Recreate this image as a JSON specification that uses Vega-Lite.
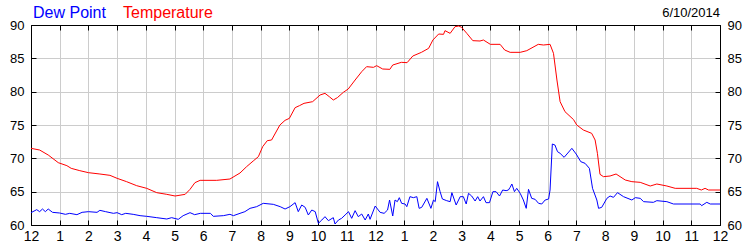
{
  "$schema": "https://vega.github.io/schema/vega-lite/v6.json",
  "width": 689,
  "height": 200,
  "autosize": {"type": "none"},
  "padding": {"left": 31, "top": 25, "right": 30, "bottom": 25},
  "background": "white",
  "title": {"text": "6/10/2014", "anchor": "end", "frame": "group", "fontSize": 13, "fontWeight": "normal", "font": "Liberation Sans", "color": "#000000", "offset": -15},
  "datasets": {
    "temp": [
      {"h":0,"v":71.5},{"h":0.3,"v":71.25},{"h":0.6,"v":70.5},{"h":0.95,"v":69.35},{"h":1.25,"v":68.9},{"h":1.4,"v":68.5},{"h":1.7,"v":68.15},{"h":2.0,"v":67.85},{"h":2.4,"v":67.65},{"h":2.75,"v":67.45},{"h":3.0,"v":67.0},{"h":3.33,"v":66.5},{"h":3.68,"v":65.9},{"h":4.03,"v":65.5},{"h":4.38,"v":64.85},{"h":4.73,"v":64.6},{"h":5.02,"v":64.35},{"h":5.37,"v":64.6},{"h":5.54,"v":65.35},{"h":5.71,"v":66.35},{"h":5.89,"v":66.7},{"h":6.47,"v":66.7},{"h":6.93,"v":66.9},{"h":7.28,"v":67.8},{"h":7.51,"v":68.75},{"h":7.74,"v":69.6},{"h":7.92,"v":70.25},{"h":8.07,"v":71.75},{"h":8.23,"v":72.65},{"h":8.38,"v":72.75},{"h":8.67,"v":75.0},{"h":8.85,"v":75.7},{"h":9.0,"v":76.0},{"h":9.2,"v":77.6},{"h":9.35,"v":77.9},{"h":9.51,"v":78.25},{"h":9.81,"v":78.5},{"h":10.07,"v":79.5},{"h":10.24,"v":79.75},{"h":10.39,"v":79.25},{"h":10.53,"v":78.75},{"h":10.67,"v":79.1},{"h":10.88,"v":79.9},{"h":11.05,"v":80.4},{"h":11.29,"v":81.75},{"h":11.52,"v":83.0},{"h":11.69,"v":83.75},{"h":11.93,"v":83.65},{"h":12.04,"v":83.9},{"h":12.25,"v":83.4},{"h":12.5,"v":83.35},{"h":12.6,"v":84.0},{"h":12.9,"v":84.4},{"h":13.1,"v":84.35},{"h":13.3,"v":85.35},{"h":13.6,"v":85.9},{"h":13.85,"v":86.5},{"h":14.0,"v":87.75},{"h":14.2,"v":88.65},{"h":14.37,"v":88.6},{"h":14.42,"v":89.15},{"h":14.6,"v":88.75},{"h":14.77,"v":89.75},{"h":14.9,"v":89.85},{"h":15.0,"v":89.65},{"h":15.18,"v":88.75},{"h":15.39,"v":87.65},{"h":15.64,"v":87.6},{"h":15.76,"v":87.75},{"h":16.0,"v":87.1},{"h":16.34,"v":87.1},{"h":16.5,"v":86.25},{"h":16.69,"v":85.9},{"h":17.04,"v":85.9},{"h":17.27,"v":86.15},{"h":17.67,"v":87.1},{"h":17.85,"v":87.0},{"h":18.08,"v":87.1},{"h":18.2,"v":85.75},{"h":18.32,"v":81.75},{"h":18.43,"v":78.5},{"h":18.6,"v":77.0},{"h":18.9,"v":75.8},{"h":19.01,"v":75.0},{"h":19.24,"v":74.25},{"h":19.53,"v":73.75},{"h":19.65,"v":72.75},{"h":19.73,"v":70.75},{"h":19.82,"v":67.6},{"h":19.94,"v":67.25},{"h":20.17,"v":67.35},{"h":20.38,"v":67.65},{"h":20.7,"v":66.75},{"h":20.93,"v":66.5},{"h":21.22,"v":66.4},{"h":21.57,"v":65.85},{"h":21.8,"v":66.15},{"h":22.15,"v":65.85},{"h":22.44,"v":65.5},{"h":23.19,"v":65.5},{"h":23.35,"v":65.25},{"h":23.48,"v":65.5},{"h":23.6,"v":65.25},{"h":24.0,"v":65.25}
    ],
    "dew": [
      {"h":0,"v":61.85},{"h":0.2,"v":62.3},{"h":0.3,"v":62.0},{"h":0.4,"v":62.4},{"h":0.5,"v":62.0},{"h":0.6,"v":62.4},{"h":0.75,"v":61.9},{"h":1.0,"v":61.8},{"h":1.2,"v":61.6},{"h":1.35,"v":61.75},{"h":1.6,"v":61.55},{"h":1.78,"v":61.9},{"h":2.0,"v":62.0},{"h":2.3,"v":61.9},{"h":2.4,"v":62.2},{"h":2.6,"v":62.0},{"h":2.87,"v":61.75},{"h":3.0,"v":61.85},{"h":3.16,"v":61.55},{"h":3.3,"v":61.75},{"h":3.56,"v":61.6},{"h":3.8,"v":61.4},{"h":4.03,"v":61.3},{"h":4.38,"v":61.1},{"h":4.73,"v":60.9},{"h":4.9,"v":61.1},{"h":5.13,"v":60.85},{"h":5.3,"v":61.4},{"h":5.54,"v":61.85},{"h":5.7,"v":61.55},{"h":5.9,"v":61.75},{"h":6.25,"v":61.75},{"h":6.35,"v":61.3},{"h":6.7,"v":61.4},{"h":6.93,"v":61.6},{"h":7.05,"v":61.4},{"h":7.28,"v":61.75},{"h":7.45,"v":62.0},{"h":7.63,"v":62.5},{"h":7.86,"v":62.75},{"h":8.09,"v":63.25},{"h":8.44,"v":63.1},{"h":8.68,"v":62.75},{"h":8.85,"v":62.4},{"h":9.02,"v":62.75},{"h":9.2,"v":63.35},{"h":9.31,"v":62.0},{"h":9.43,"v":63.0},{"h":9.55,"v":62.65},{"h":9.66,"v":61.5},{"h":9.78,"v":62.25},{"h":9.9,"v":62.0},{"h":10.01,"v":60.25},{"h":10.13,"v":60.75},{"h":10.24,"v":61.25},{"h":10.36,"v":60.65},{"h":10.53,"v":61.1},{"h":10.59,"v":60.15},{"h":10.71,"v":60.75},{"h":10.82,"v":61.0},{"h":10.94,"v":61.5},{"h":11.06,"v":62.0},{"h":11.17,"v":61.0},{"h":11.29,"v":62.15},{"h":11.4,"v":61.25},{"h":11.52,"v":61.65},{"h":11.64,"v":60.75},{"h":11.75,"v":61.65},{"h":11.81,"v":60.85},{"h":11.99,"v":62.85},{"h":12.16,"v":61.9},{"h":12.3,"v":61.75},{"h":12.42,"v":62.25},{"h":12.49,"v":63.75},{"h":12.6,"v":61.35},{"h":12.68,"v":63.75},{"h":12.76,"v":63.5},{"h":12.83,"v":64.1},{"h":12.91,"v":63.25},{"h":13.03,"v":63.15},{"h":13.09,"v":62.75},{"h":13.2,"v":64.25},{"h":13.32,"v":64.1},{"h":13.44,"v":64.25},{"h":13.52,"v":62.5},{"h":13.61,"v":62.65},{"h":13.79,"v":64.0},{"h":13.93,"v":62.5},{"h":14.02,"v":63.75},{"h":14.08,"v":63.5},{"h":14.16,"v":66.5},{"h":14.25,"v":65.0},{"h":14.33,"v":63.9},{"h":14.48,"v":63.65},{"h":14.6,"v":63.5},{"h":14.66,"v":64.85},{"h":14.81,"v":63.0},{"h":14.95,"v":64.25},{"h":15.06,"v":64.25},{"h":15.16,"v":63.15},{"h":15.24,"v":64.75},{"h":15.35,"v":64.35},{"h":15.47,"v":63.6},{"h":15.56,"v":64.25},{"h":15.64,"v":63.6},{"h":15.76,"v":64.25},{"h":15.85,"v":63.35},{"h":15.97,"v":63.35},{"h":16.09,"v":65.0},{"h":16.2,"v":65.0},{"h":16.32,"v":64.35},{"h":16.43,"v":65.25},{"h":16.55,"v":65.15},{"h":16.63,"v":65.25},{"h":16.69,"v":65.65},{"h":16.75,"v":66.15},{"h":16.84,"v":65.0},{"h":16.92,"v":65.5},{"h":17.04,"v":64.75},{"h":17.15,"v":63.75},{"h":17.25,"v":62.5},{"h":17.33,"v":65.35},{"h":17.44,"v":64.0},{"h":17.56,"v":63.85},{"h":17.68,"v":63.25},{"h":17.79,"v":63.15},{"h":17.91,"v":63.75},{"h":18.03,"v":63.9},{"h":18.08,"v":65.25},{"h":18.16,"v":72.15},{"h":18.25,"v":72.0},{"h":18.34,"v":71.0},{"h":18.43,"v":70.75},{"h":18.57,"v":70.15},{"h":18.84,"v":71.5},{"h":18.99,"v":70.65},{"h":19.15,"v":69.5},{"h":19.3,"v":69.25},{"h":19.45,"v":68.5},{"h":19.56,"v":65.5},{"h":19.71,"v":63.75},{"h":19.77,"v":62.5},{"h":19.88,"v":62.65},{"h":20.06,"v":64.0},{"h":20.17,"v":64.35},{"h":20.29,"v":64.15},{"h":20.43,"v":64.85},{"h":20.64,"v":64.25},{"h":20.93,"v":63.75},{"h":21.05,"v":64.1},{"h":21.22,"v":64.0},{"h":21.34,"v":63.5},{"h":21.68,"v":63.4},{"h":21.8,"v":63.65},{"h":22.15,"v":63.5},{"h":22.38,"v":63.15},{"h":23.31,"v":63.15},{"h":23.36,"v":62.9},{"h":23.54,"v":63.4},{"h":23.66,"v":63.15},{"h":24.0,"v":63.15}
    ]
  },
  "config": {
    "view": {"stroke": "#000000", "strokeWidth": 1},
    "axis": {
      "title": null,
      "domainColor": "#000000",
      "domainWidth": 1,
      "tickColor": "#000000",
      "tickSize": -5,
      "labelColor": "#000000",
      "labelFont": "Liberation Sans",
      "labelFlush": false,
      "labelOverlap": false,
      "gridColor": "#cccccc",
      "gridWidth": 1,
      "gridOpacity": 1
    }
  },
  "layer": [
    {
      "data": {"name": "temp"},
      "mark": {"type": "line", "strokeWidth": 1, "color": "#ff0000"},
      "encoding": {
        "x": {"field": "h", "type": "quantitative", "scale": {"domain": [0, 24], "nice": false},
          "axis": {"orient": "bottom", "values": [0,1,2,3,4,5,6,7,8,9,10,11,12,13,14,15,16,17,18,19,20,21,22,23,24],
            "labelExpr": "datum.value % 12 === 0 ? '12' : '' + (datum.value % 12)", "labelFontSize": 14, "labelPadding": 9, "grid": true}},
        "y": {"field": "v", "type": "quantitative", "scale": {"domain": [60, 90], "nice": false},
          "axis": {"orient": "left", "values": [60,65,70,75,80,85,90], "labelFontSize": 13, "labelPadding": 12, "grid": true}},
        "color": {"datum": "Temperature", "type": "nominal",
          "scale": {"domain": ["Dew Point", "Temperature"], "range": ["#0000ff", "#ff0000"]},
          "legend": {"orient": "none", "legendX": -14, "legendY": -20, "direction": "horizontal", "title": null,
            "symbolSize": 0, "symbolStrokeWidth": 0, "symbolOpacity": 0, "labelOffset": 0,
            "labelFontSize": 16, "labelFont": "Liberation Sans", "columnPadding": 1, "padding": 0, "labelLimit": 300,
            "encode": {"labels": {"update": {"fill": {"scale": "color", "field": "value"}}}}}}
      }
    },
    {
      "data": {"name": "dew"},
      "mark": {"type": "line", "strokeWidth": 1, "color": "#0000ff"},
      "encoding": {
        "x": {"field": "h", "type": "quantitative", "scale": {"domain": [0, 24], "nice": false},
          "axis": {"orient": "top", "values": [0,1,2,3,4,5,6,7,8,9,10,11,12,13,14,15,16,17,18,19,20,21,22,23,24], "labels": false, "grid": false}},
        "y": {"field": "v", "type": "quantitative", "scale": {"domain": [60, 90], "nice": false},
          "axis": {"orient": "right", "values": [60,65,70,75,80,85,90], "labelFontSize": 13, "labelPadding": 12, "grid": false}},
        "color": {"datum": "Dew Point", "type": "nominal"}
      }
    }
  ],
  "resolve": {"axis": {"x": "independent", "y": "independent"}}
}
